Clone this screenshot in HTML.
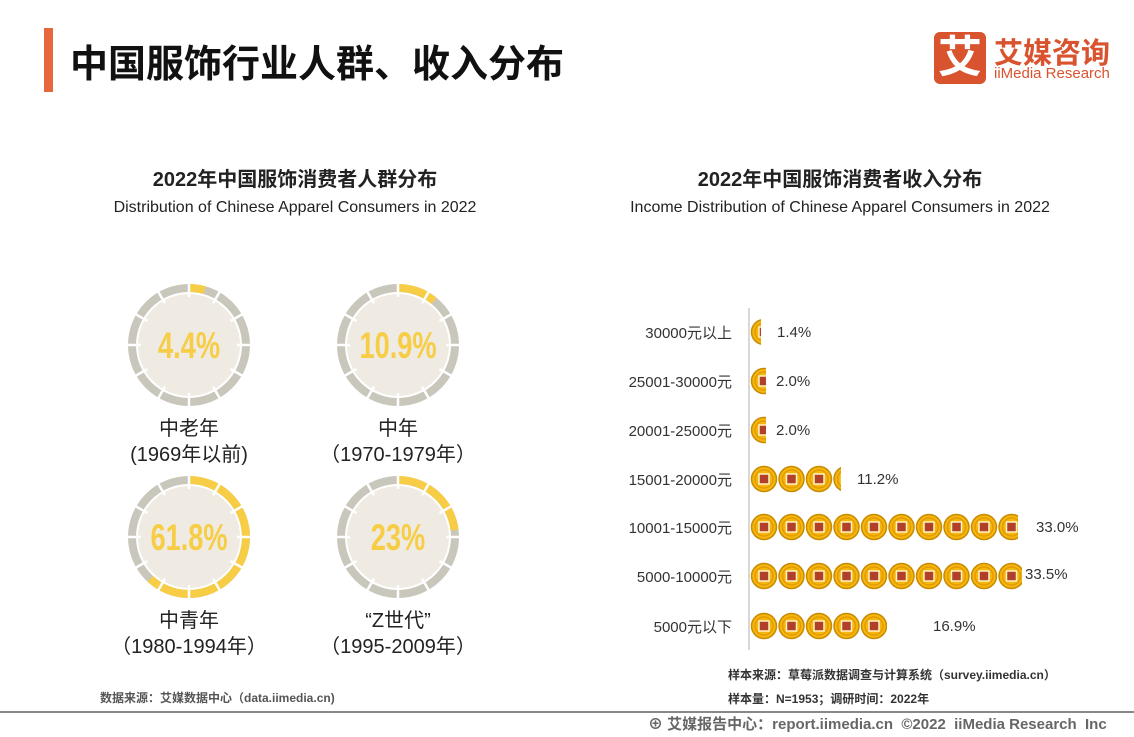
<!DOCTYPE html>
<html><head><meta charset="utf-8"><style>
body{margin:0;width:1134px;height:737px;background:#fff;font-family:"Liberation Sans","Noto Sans CJK SC",sans-serif;position:relative;overflow:hidden;color:#222}
.a{position:absolute;white-space:nowrap}
</style></head><body>
<div class="a" style="left:44px;top:28px;width:9px;height:64px;background:#e8663d"></div>
<div class="a" style="left:70px;top:33px;font-size:38px;font-weight:bold;color:#111">中国服饰行业人群、收入分布</div>
<div class="a" style="left:934px;top:32px;width:52px;height:52px;background:#d9532f;border-radius:6px;color:#fff;font-size:44px;font-weight:bold;text-align:center;line-height:52px">艾</div>
<div class="a" style="left:994px;top:30px;font-size:29px;font-weight:bold;color:#d9532f">艾媒咨询</div>
<div class="a" style="left:994px;top:65px;font-size:15px;color:#d9532f">iiMedia Research</div>

<div class="a" style="left:0;width:590px;text-align:center;top:163px;font-size:20px;font-weight:bold">2022年中国服饰消费者人群分布</div>
<div class="a" style="left:0;width:590px;text-align:center;top:199px;font-size:16px">Distribution of Chinese Apparel Consumers in 2022</div>
<div class="a" style="left:545px;width:590px;text-align:center;top:163px;font-size:20px;font-weight:bold">2022年中国服饰消费者收入分布</div>
<div class="a" style="left:545px;width:590px;text-align:center;top:199px;font-size:16px">Income Distribution of Chinese Apparel Consumers in 2022</div>

<svg class="a" style="left:0;top:0" width="1134" height="737">
<defs>
<g id="gaps"><g stroke="#fff" stroke-width="2.5">
<line x1="0" y1="-48" x2="0" y2="-66" transform="rotate(0)"/><line x1="0" y1="-48" x2="0" y2="-66" transform="rotate(30)"/><line x1="0" y1="-48" x2="0" y2="-66" transform="rotate(60)"/><line x1="0" y1="-48" x2="0" y2="-66" transform="rotate(90)"/><line x1="0" y1="-48" x2="0" y2="-66" transform="rotate(120)"/><line x1="0" y1="-48" x2="0" y2="-66" transform="rotate(150)"/><line x1="0" y1="-48" x2="0" y2="-66" transform="rotate(180)"/><line x1="0" y1="-48" x2="0" y2="-66" transform="rotate(210)"/><line x1="0" y1="-48" x2="0" y2="-66" transform="rotate(240)"/><line x1="0" y1="-48" x2="0" y2="-66" transform="rotate(270)"/><line x1="0" y1="-48" x2="0" y2="-66" transform="rotate(300)"/><line x1="0" y1="-48" x2="0" y2="-66" transform="rotate(330)"/></g></g>
<g id="coin2"><circle r="12.5" fill="#f3b70f" stroke="#c98a00" stroke-width="1.5"/><circle r="9" fill="none" stroke="#e69a00" stroke-width="1.5"/><rect x="-5" y="-5" width="10" height="10" fill="#b0402a" stroke="#fff3c0" stroke-width="1.5"/></g>
<g id="r2"><use href="#coin2" x="764"/><use href="#coin2" x="791.5"/><use href="#coin2" x="819"/><use href="#coin2" x="846.5"/><use href="#coin2" x="874"/><use href="#coin2" x="901.5"/><use href="#coin2" x="929"/><use href="#coin2" x="956.5"/><use href="#coin2" x="984"/><use href="#coin2" x="1011.5"/><use href="#coin2" x="1039"/></g>
<clipPath id="d1"><rect x="750" y="0" width="11" height="737"/></clipPath>
<clipPath id="d2"><rect x="750" y="0" width="16" height="737"/></clipPath>
<clipPath id="d4"><rect x="750" y="0" width="91" height="737"/></clipPath>
<clipPath id="d5"><rect x="750" y="0" width="268" height="737"/></clipPath>
<clipPath id="d6"><rect x="750" y="0" width="272" height="737"/></clipPath>
<clipPath id="d7"><rect x="750" y="0" width="137" height="737"/></clipPath>
</defs>
<g font-family="Liberation Sans Narrow,Liberation Sans,sans-serif" font-weight="bold" fill="#f6cd45" text-anchor="middle">
<g transform="translate(189,345)"><circle r="51" fill="#efebe3"/><circle r="57" fill="none" stroke="#c9c6bb" stroke-width="8"/><circle r="57" fill="none" stroke="#f6cd45" stroke-width="8" stroke-dasharray="15.8 400" transform="rotate(-90)"/><use href="#gaps"/><text y="12" font-size="34" transform="scale(0.8,1.1)">4.4%</text></g>
<g transform="translate(398,345)"><circle r="51" fill="#efebe3"/><circle r="57" fill="none" stroke="#c9c6bb" stroke-width="8"/><circle r="57" fill="none" stroke="#f6cd45" stroke-width="8" stroke-dasharray="39 400" transform="rotate(-90)"/><use href="#gaps"/><text y="12" font-size="34" transform="scale(0.8,1.1)">10.9%</text></g>
<g transform="translate(189,537)"><circle r="51" fill="#efebe3"/><circle r="57" fill="none" stroke="#c9c6bb" stroke-width="8"/><circle r="57" fill="none" stroke="#f6cd45" stroke-width="8" stroke-dasharray="221.3 400" transform="rotate(-90)"/><use href="#gaps"/><text y="12" font-size="34" transform="scale(0.8,1.1)">61.8%</text></g>
<g transform="translate(398,537)"><circle r="51" fill="#efebe3"/><circle r="57" fill="none" stroke="#c9c6bb" stroke-width="8"/><circle r="57" fill="none" stroke="#f6cd45" stroke-width="8" stroke-dasharray="82.4 400" transform="rotate(-90)"/><use href="#gaps"/><text y="12" font-size="34" transform="scale(0.8,1.1)">23%</text></g>
</g>
<line x1="749" y1="308" x2="749" y2="650" stroke="#ccc" stroke-width="1.5"/>
<g clip-path="url(#d1)"><use href="#r2" y="332"/></g>
<g clip-path="url(#d2)"><use href="#r2" y="381"/><use href="#r2" y="430"/></g>
<g clip-path="url(#d4)"><use href="#r2" y="479"/></g>
<g clip-path="url(#d5)"><use href="#r2" y="527"/></g>
<g clip-path="url(#d6)"><use href="#r2" y="576"/></g>
<g clip-path="url(#d7)"><use href="#r2" y="626"/></g>
</svg>

<div class="a" style="left:89px;width:200px;text-align:center;top:416px;font-size:20px;line-height:26px">中老年<br>(1969年以前)</div>
<div class="a" style="left:298px;width:200px;text-align:center;top:416px;font-size:20px;line-height:26px">中年<br>（1970-1979年）</div>
<div class="a" style="left:89px;width:200px;text-align:center;top:608px;font-size:20px;line-height:26px">中青年<br>（1980-1994年）</div>
<div class="a" style="left:298px;width:200px;text-align:center;top:608px;font-size:20px;line-height:26px">“Z世代”<br>（1995-2009年）</div>

<div style="position:absolute;left:560px;width:172px;text-align:right;font-size:15px;color:#333">
<div class="a" style="right:0;top:322px">30000元以上</div>
<div class="a" style="right:0;top:371px">25001-30000元</div>
<div class="a" style="right:0;top:420px">20001-25000元</div>
<div class="a" style="right:0;top:469px">15001-20000元</div>
<div class="a" style="right:0;top:517px">10001-15000元</div>
<div class="a" style="right:0;top:566px">5000-10000元</div>
<div class="a" style="right:0;top:616px">5000元以下</div>
</div>
<div style="font-size:15px;color:#333">
<div class="a" style="left:777px;top:324px">1.4%</div>
<div class="a" style="left:776px;top:373px">2.0%</div>
<div class="a" style="left:776px;top:422px">2.0%</div>
<div class="a" style="left:857px;top:471px">11.2%</div>
<div class="a" style="left:1036px;top:519px">33.0%</div>
<div class="a" style="left:1025px;top:566px">33.5%</div>
<div class="a" style="left:933px;top:618px">16.9%</div>
</div>
<div class="a" style="left:728px;top:666px;font-size:12px;font-weight:bold;color:#333">样本来源：草莓派数据调查与计算系统（survey.iimedia.cn）</div>
<div class="a" style="left:728px;top:690px;font-size:12px;font-weight:bold;color:#333">样本量：N=1953；调研时间：2022年</div>
<div class="a" style="left:100px;top:689px;font-size:12px;font-weight:bold;color:#555">数据来源：艾媒数据中心（data.iimedia.cn)</div>
<div class="a" style="left:0;top:711px;width:1134px;height:2px;background:#888"></div>
<div class="a" style="left:648px;top:713px;font-size:15px;font-weight:bold;color:#666">⊕ 艾媒报告中心：report.iimedia.cn &nbsp;©2022 &nbsp;iiMedia Research &nbsp;Inc</div>
</body></html>
